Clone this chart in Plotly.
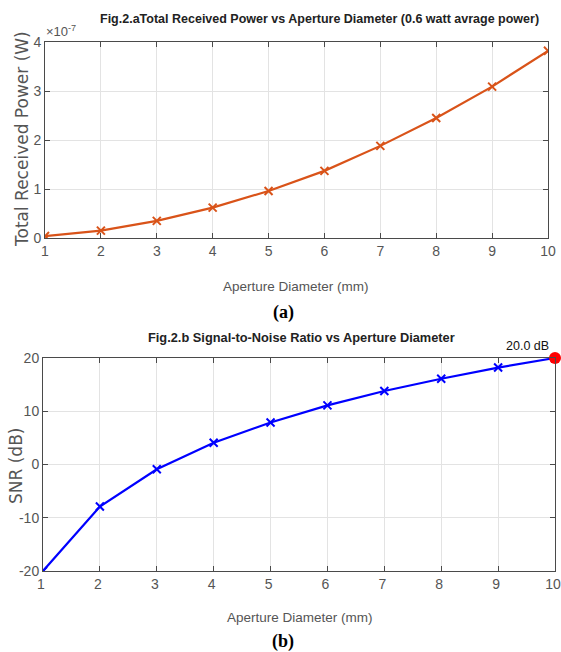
import plotly.graph_objects as go

diam_mm = [1, 2, 3, 4, 5, 6, 7, 8, 9, 10]
power_e7 = [0.04, 0.15, 0.35, 0.62, 0.96, 1.37, 1.88, 2.45, 3.09, 3.82]
snr_db = [-20.0, -7.9, -0.9, 4.1, 7.9, 11.1, 13.8, 16.1, 18.2, 20.0]

peak_x = 10
peak_snr = 20.0

power_ticks = [0, 1, 2, 3, 4]
power_ticklabels = ["0", "1", "2", "3", "4"]
snr_ticks = [-20, -10, 0, 10, 20]
snr_ticklabels = ["-20", "-10", "0", "10", "20"]

title_a = "Fig.2.aTotal Received Power vs Aperture Diameter (0.6 watt avrage power)"
title_b = "Fig.2.b Signal-to-Noise Ratio vs Aperture Diameter"
xlabel = "Aperture Diameter (mm)"
ylabel_a = "Total Received Power (W)"
ylabel_b = "SNR (dB)"

W, H = 561, 652
NARROW = "Liberation Sans, Arial, sans-serif"
WIDE = "DejaVu Sans, sans-serif"
TICKC = "#555555"

fig = go.Figure()

fig.add_trace(go.Scatter(
    x=diam_mm, y=power_e7, mode="lines+markers",
    line=dict(color="#D95319", width=2.2),
    marker=dict(symbol="x-thin", size=8, line=dict(color="#D95319", width=2)),
    xaxis="x", yaxis="y", showlegend=False))

fig.add_trace(go.Scatter(
    x=diam_mm, y=snr_db, mode="lines+markers",
    line=dict(color="#0000FF", width=2.2),
    marker=dict(symbol="x-thin", size=8, line=dict(color="#0000FF", width=2)),
    xaxis="x2", yaxis="y2", showlegend=False))

fig.add_trace(go.Scatter(
    x=[peak_x], y=[peak_snr], mode="markers",
    marker=dict(symbol="circle", size=12, color="#FF0000"),
    xaxis="x2", yaxis="y2", showlegend=False, cliponaxis=False))

def px_x(p):
    return p / W

def px_y(p):
    return 1 - p / H

ax_common = dict(
    automargin=False,
    showline=True, linecolor="#4a4a4a", linewidth=1, mirror="ticks",
    ticks="inside", ticklen=5, tickcolor="#4a4a4a",
    showgrid=True, gridcolor="#e3e3e3", gridwidth=1, zeroline=False,
    tickfont=dict(family=NARROW, size=14, color=TICKC),
)

fig.update_layout(
    width=W, height=H, autosize=False,
    margin=dict(l=0, r=0, t=0, b=0, pad=0),
    paper_bgcolor="white", plot_bgcolor="white",
    xaxis=dict(ax_common, domain=[px_x(45), px_x(548)], range=[1, 10], dtick=1, anchor="y"),
    yaxis=dict(ax_common, domain=[px_y(238), px_y(42)], range=[0, 4],
               tickvals=power_ticks, ticktext=power_ticklabels, anchor="x"),
    xaxis2=dict(ax_common, domain=[px_x(43), px_x(555)], range=[1, 10], dtick=1, anchor="y2",
                ticklabeloverflow="allow", ticklabelshift=-2),
    yaxis2=dict(ax_common, domain=[px_y(571), px_y(358)], range=[-20, 20],
                tickvals=snr_ticks, ticktext=snr_ticklabels, anchor="x2"),
)

ann = []
def add_text(text, x, y, font, angle=0, xanchor="center", yanchor="middle"):
    ann.append(dict(text=text, x=px_x(x), y=px_y(y), xref="paper", yref="paper",
                    showarrow=False, font=font, textangle=angle,
                    xanchor=xanchor, yanchor=yanchor))

add_text("<b>" + title_a + "</b>", 319, 19, dict(family=NARROW, size=12.5, color="#222222"))
add_text("<b>" + title_b + "</b>", 301, 337, dict(family=NARROW, size=12.8, color="#222222"))
add_text(xlabel, 296, 286, dict(family=NARROW, size=13.5, color=TICKC))
add_text(xlabel, 300, 617, dict(family=NARROW, size=13.5, color=TICKC))
add_text(ylabel_a, 22, 139, dict(family=WIDE, size=17, color=TICKC), angle=-90)
add_text(ylabel_b, 16, 466, dict(family=WIDE, size=17, color=TICKC), angle=-90)
add_text("×10<sup>-7</sup>", 44, 31, dict(family=NARROW, size=13, color=TICKC), xanchor="left")
add_text("20.0 dB", 551, 346, dict(family=NARROW, size=12.5, color="#111111"), xanchor="right")
add_text("<b>(a)</b>", 283, 312, dict(family="Liberation Serif, Times New Roman, serif", size=18, color="black"))
add_text("<b>(b)</b>", 283, 641, dict(family="Liberation Serif, Times New Roman, serif", size=18, color="black"))

fig.update_layout(annotations=ann)

fig.write_html("out.html", config={"displayModeBar": False},
               post_script="document.body.style.margin='0';")
